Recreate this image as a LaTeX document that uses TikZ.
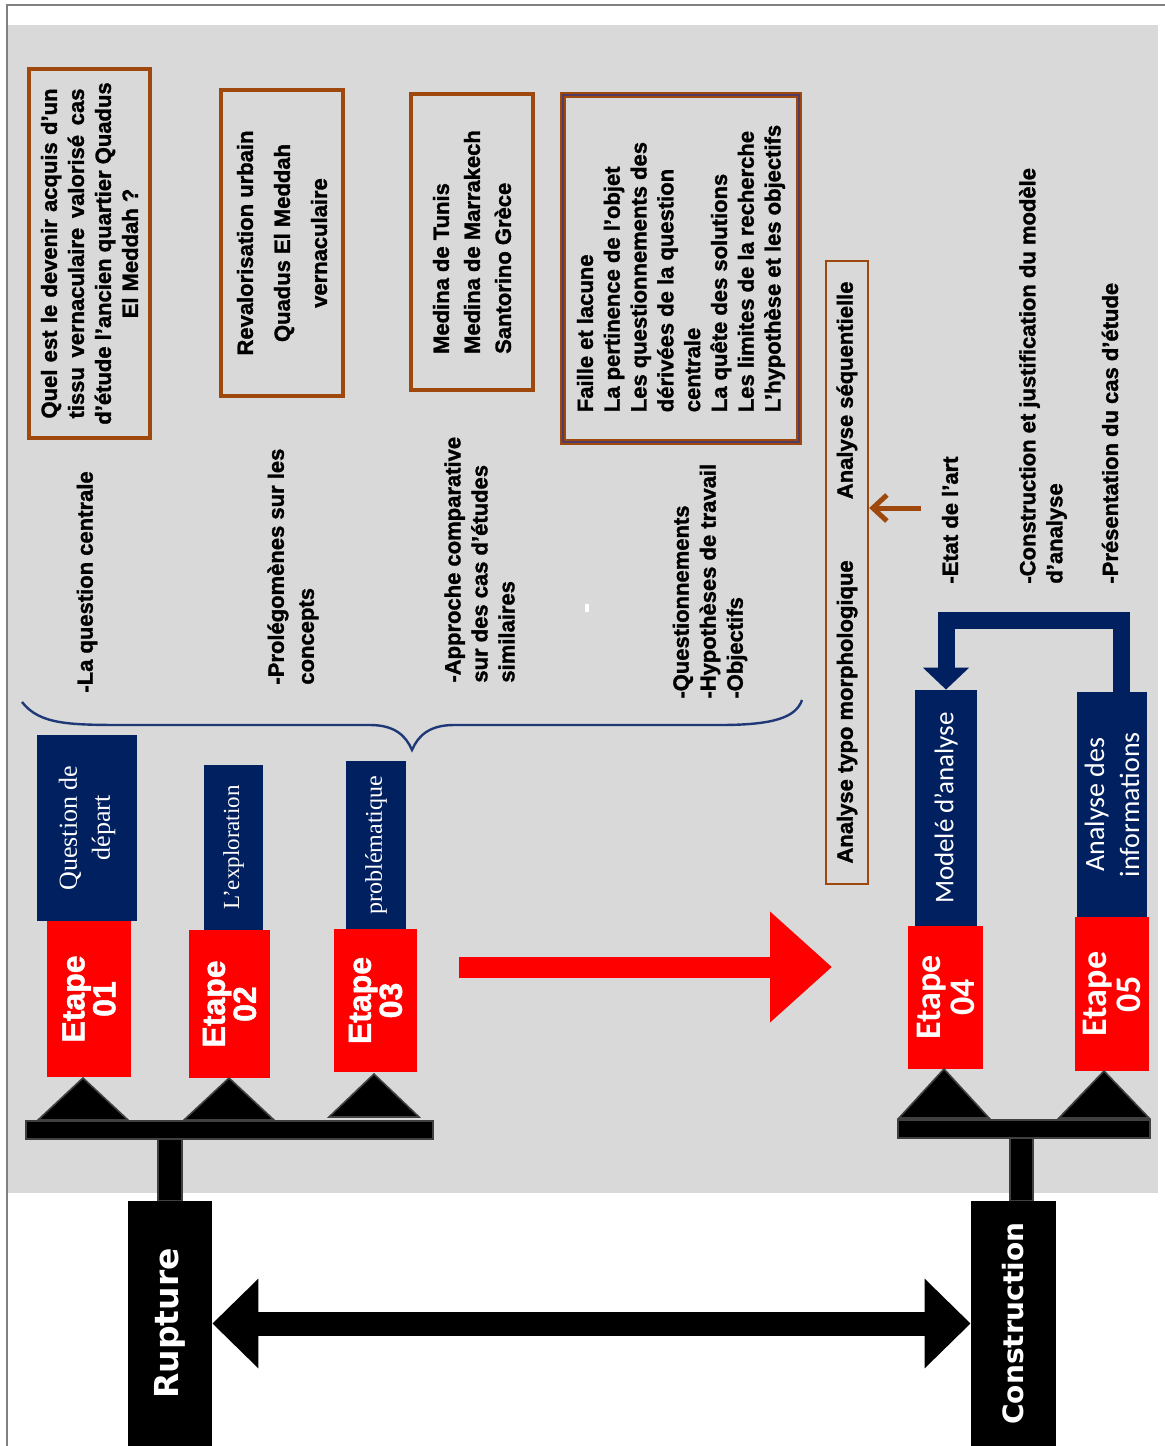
\documentclass[tikz,border=0pt]{standalone}
\usepackage{fontspec}
\setmainfont{Liberation Sans}[BoldFeatures={FakeBold=1.5}]
\newfontfamily\timesfont{Liberation Serif}
\newfontfamily\califont{Carlito}
\newfontfamily\verdfont{DejaVu Sans}
\usetikzlibrary{arrows.meta,calc}

\definecolor{fond}{RGB}{217,217,217}
\definecolor{marine}{RGB}{0,32,96}
\definecolor{brique}{RGB}{158,72,14}
\definecolor{accolade}{RGB}{31,56,120}
\definecolor{prune}{RGB}{80,60,100}

\tikzset{
  cadre/.style={rotate=90, draw=brique, line width=2pt, inner sep=0pt, align=center,
    font=\bfseries\fontsize{11pt}{13.5pt}\selectfont},
  note/.style={rotate=90, anchor=west, inner sep=0pt, align=left,
    font=\bfseries\fontsize{11pt}{13.5pt}\selectfont},
  titre/.style={rotate=90, fill=marine, text=white, inner sep=0pt, align=center},
  etape/.style={rotate=90, fill=red, text=white, inner sep=0pt, align=center,
    font=\bfseries\fontsize{16pt}{15.5pt}\selectfont},
  pilier/.style={rotate=90, fill=black, text=white, inner sep=0pt},
  socle/.style={fill=black, draw=black!75, line width=0.8pt},
}

\begin{document}
\begin{tikzpicture}[x=0.5pt, y=-0.5pt, line join=miter]
  \useasboundingbox (0,0) rectangle (1165,1446);
  % Frame and grey panel.
  \fill[fond] (8,25) rectangle (1158,1193);
  \draw[gray, line width=0.6pt] (7,1446) -- (7,5) -- (1165,5);
  \fill[white] (585,604) rectangle (589,612);

  % Brown boxes.
  \node[cadre, minimum width=184.5pt, minimum height=60.5pt] (b1) at (89.5,253.5)
    {\makebox[165pt][s]{Quel est le devenir acquis d’un}\\
     \makebox[165pt][s]{tissu vernaculaire valorisé cas}\\
     d’étude l’ancien quartier Quadus\\El Meddah ?};
  \node[cadre, minimum width=153pt, minimum height=61pt,
    font=\bfseries\fontsize{11pt}{18.5pt}\selectfont] (b2) at (282,243)
    {Revalorisation urbain\\Quadus El Meddah\\vernaculaire};
  \node[cadre, minimum width=148pt, minimum height=61pt, align=left,
    font=\bfseries\fontsize{11pt}{15.5pt}\selectfont] (b3) at (472,242)
    {Medina de Tunis\\Medina de Marrakech\\Santorino Grèce};
  \node[cadre, line width=1pt, double=prune, double distance=1pt,
    minimum width=173.5pt, minimum height=118pt, align=left,
    font=\bfseries\fontsize{11pt}{13.4pt}\selectfont] (b4) at (681,268.5)
    {Faille et lacune\\La pertinence de l’objet\\Les questionnements des\\dérivées de la question\\centrale\\La quête des solutions\\Les limites de la recherche\\L’hypothèse et les objectifs};
  \node[cadre, line width=1.2pt, minimum width=311.5pt, minimum height=21pt,
    text width=291pt, align=flush left] (b5) at (847,572.5)
    {Analyse typo morphologique\hfill Analyse séquentielle};

  % Labels.
  \node[note] (l1) at (87,693) {-La question centrale};
  \node[note, font=\bfseries\fontsize{11pt}{15pt}\selectfont] (l2) at (293,685)
    {-Prolégomènes sur les\\concepts};
  \node[note] (l3) at (479.5,683) {-Approche comparative\\sur des cas d’études\\similaires};
  \node[note] (l4) at (710,699) {-Questionnements\\-Hypothèses de travail\\-Objectifs};
  \node[note] (l5) at (950,584) {-Etat de l’art};
  \node[note] (l6) at (1043,584) {-Construction et justification du modèle\\d’analyse};
  \node[note] (l7) at (1110,584) {-Présentation du cas d’étude};

  % Brace over the first three steps.
  \draw[accolade, line width=1.2pt] (22,702) .. controls (40,725) and (70,725) .. (130,725)
    -- (370,725) .. controls (395,725) and (406,736) .. (412,750)
    .. controls (418,736) and (429,725) .. (454,725)
    -- (720,725) .. controls (775,725) and (796,717) .. (802,700);

  % Step titles.
  \node[titre, minimum width=93pt, minimum height=50pt,
    font=\timesfont\fontsize{13pt}{16.5pt}\selectfont] (q1) at (87,828) {Question de\\départ};
  \node[titre, minimum width=82.5pt, minimum height=29.5pt,
    font=\timesfont\fontsize{11.5pt}{14pt}\selectfont] (q2) at (233.5,847.5) {L’exploration};
  \node[titre, minimum width=84pt, minimum height=30pt,
    font=\timesfont\fontsize{12pt}{14pt}\selectfont] (q3) at (376,845) {problématique};
  \node[titre, minimum width=118pt, minimum height=31pt,
    font=\califont\fontsize{13.5pt}{16pt}\selectfont] (q4) at (946,808) {Modelé d’analyse};
  \node[titre, minimum width=112.5pt, minimum height=35pt,
    font=\califont\fontsize{14pt}{17.5pt}\selectfont] (q5) at (1112,804.5) {Analyse des\\informations};

  % Steps.
  \node[etape, minimum width=78pt, minimum height=42pt] (e1) at (89,999) {Etape\\01};
  \node[etape, minimum width=74pt, minimum height=40.5pt] (e2) at (229.5,1004) {Etape\\02};
  \node[etape, minimum width=71.5pt, minimum height=41.5pt] (e3) at (375.5,1000.5) {Etape\\03};
  \node[etape, minimum width=71.5pt, minimum height=37.5pt,
    font=\califont\bfseries\fontsize{18pt}{17pt}\selectfont] (e4) at (945.5,997.5) {Etape\\04};
  \node[etape, minimum width=77pt, minimum height=37pt,
    font=\califont\bfseries\fontsize{18pt}{17pt}\selectfont] (e5) at (1112,994) {Etape\\05};

  % Scales.
  \foreach \x/\y/\b in {83/1078/1120, 229/1078/1120, 374/1074/1117, 944/1069/1118, 1104/1071/1118}
    \filldraw[socle] (\x-45,\b) -- (\x,\y) -- (\x+45,\b) -- cycle;
  \filldraw[socle] (26,1121) rectangle (433,1139);
  \filldraw[socle] (898,1120) rectangle (1150,1138);
  \filldraw[socle] (158,1139) rectangle (182,1201);
  \filldraw[socle] (1010,1138) rectangle (1033,1201);

  % Poles.
  \node[pilier, minimum width=122.5pt, minimum height=42pt,
    font=\verdfont\bfseries\fontsize{16.5pt}{18pt}\selectfont] (rup) at (170,1323.5) {Rupture};
  \node[pilier, minimum width=122.5pt, minimum height=42.5pt,
    font=\verdfont\bfseries\fontsize{14pt}{16pt}\selectfont] (con) at (1013.5,1323.5) {Construction};

  % Arrows.
  \draw[line width=12pt, {Triangle[length=23pt,width=43.5pt]}-{Triangle[length=23pt,width=43.5pt]}]
    (rup.south) -- (con.north);
  \coordinate (ra) at (459,967);
  \coordinate (rb) at (832,967);
  \draw[red, line width=10.5pt, -{Triangle[length=31pt,width=53.5pt]}] (ra) -- (rb);
  \draw[marine, line width=8.5pt, -{Triangle[length=11pt,width=22.5pt]}]
    ($(q5.east)+(9,0)$) -- ++(0,-71) -| (q4.east);
  \coordinate (sa) at (921,508);
  \draw[brique, line width=2.5pt, -{Straight Barb[length=7pt,width=13pt]}] (sa) -- (sa -| b5.south);
\end{tikzpicture}
\end{document}
